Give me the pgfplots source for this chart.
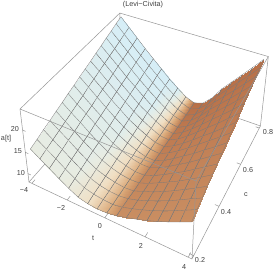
\documentclass[border=0pt]{standalone}
\usepackage{pgfplots}
\usepackage{pgfplotstable}
\pgfplotsset{compat=1.18}
\usepackage{fontspec}
\setmainfont{Liberation Sans}
\pgfmathdeclarefunction{PX}{3}{\pgfmathparse{(29+138*(.5+.12*#1)+121*(1.6*#2-.3)-10.43*(.0603*#3-.48))/(1-.13*(.5+.12*#1)+.236*(1.6*#2-.3)-.0715*(.0603*#3-.48))}}
\pgfmathdeclarefunction{PY}{3}{\pgfmathparse{273-(182+43.3*(.5+.12*#1)-86*(1.6*#2-.3)-80.8*(.0603*#3-.48))/(1-.13*(.5+.12*#1)+.236*(1.6*#2-.3)-.0715*(.0603*#3-.48))}}
\pgfmathdeclarefunction{SH}{2}{\pgfmathparse{max(-1,min(1,(#1+.9-1.5*(#2-.2))/(1.4-1.5*(#2-.2))))}}
\pgfmathdeclarefunction{MT}{2}{\pgfmathparse{SH(#1,#2)<0 ? SH(#1,#2)*(.45+.9167*(#2-.2)) : SH(#1,#2)*(.75+.4167*(#2-.2))}}
\pgfplotstableread[row sep=\\]{
t c a\\
-4 .2 15.5\\ -3.5 .2 14.1\\ -3 .2 12.8\\ -2.5 .2 11.4\\ -2 .2 10.1\\ -1.5 .2 9.0\\ -1 .2 8.5\\ -.5 .2 8.3\\ 0 .2 8.4\\ .5 .2 8.8\\ 1 .2 9.5\\ 1.5 .2 10.2\\ 2 .2 11.0\\ 2.5 .2 11.9\\ 3 .2 12.9\\ 3.5 .2 14.0\\ 4 .2 15.1\\
-4 .2375 16.0\\ -3.5 .2375 14.6\\ -3 .2375 13.3\\ -2.5 .2375 11.8\\ -2 .2375 10.5\\ -1.5 .2375 9.3\\ -1 .2375 8.8\\ -.5 .2375 8.5\\ 0 .2375 8.4\\ .5 .2375 8.8\\ 1 .2375 9.5\\ 1.5 .2375 10.3\\ 2 .2375 11.2\\ 2.5 .2375 12.2\\ 3 .2375 13.3\\ 3.5 .2375 14.5\\ 4 .2375 15.7\\
-4 .275 16.6\\ -3.5 .275 15.1\\ -3 .275 13.7\\ -2.5 .275 12.3\\ -2 .275 10.9\\ -1.5 .275 9.7\\ -1 .275 9.0\\ -.5 .275 8.6\\ 0 .275 8.5\\ .5 .275 8.8\\ 1 .275 9.5\\ 1.5 .275 10.4\\ 2 .275 11.4\\ 2.5 .275 12.5\\ 3 .275 13.7\\ 3.5 .275 15.0\\ 4 .275 16.2\\
-4 .3125 17.1\\ -3.5 .3125 15.6\\ -3 .3125 14.2\\ -2.5 .3125 12.7\\ -2 .3125 11.3\\ -1.5 .3125 10.0\\ -1 .3125 9.3\\ -.5 .3125 8.8\\ 0 .3125 8.5\\ .5 .3125 8.7\\ 1 .3125 9.6\\ 1.5 .3125 10.5\\ 2 .3125 11.6\\ 2.5 .3125 12.8\\ 3 .3125 14.1\\ 3.5 .3125 15.4\\ 4 .3125 16.8\\
-4 .35 17.7\\ -3.5 .35 16.1\\ -3 .35 14.6\\ -2.5 .35 13.1\\ -2 .35 11.7\\ -1.5 .35 10.4\\ -1 .35 9.5\\ -.5 .35 8.9\\ 0 .35 8.6\\ .5 .35 8.7\\ 1 .35 9.6\\ 1.5 .35 10.7\\ 2 .35 11.9\\ 2.5 .35 13.1\\ 3 .35 14.5\\ 3.5 .35 15.9\\ 4 .35 17.4\\
-4 .3875 18.2\\ -3.5 .3875 16.6\\ -3 .3875 15.1\\ -2.5 .3875 13.5\\ -2 .3875 12.0\\ -1.5 .3875 10.7\\ -1 .3875 9.8\\ -.5 .3875 9.1\\ 0 .3875 8.6\\ .5 .3875 8.7\\ 1 .3875 9.6\\ 1.5 .3875 10.8\\ 2 .3875 12.1\\ 2.5 .3875 13.4\\ 3 .3875 14.9\\ 3.5 .3875 16.4\\ 4 .3875 17.9\\
-4 .425 18.8\\ -3.5 .425 17.1\\ -3 .425 15.6\\ -2.5 .425 14.0\\ -2 .425 12.4\\ -1.5 .425 11.0\\ -1 .425 10.0\\ -.5 .425 9.2\\ 0 .425 8.7\\ .5 .425 8.7\\ 1 .425 9.6\\ 1.5 .425 10.9\\ 2 .425 12.3\\ 2.5 .425 13.7\\ 3 .425 15.3\\ 3.5 .425 16.9\\ 4 .425 18.5\\
-4 .4625 19.3\\ -3.5 .4625 17.6\\ -3 .4625 16.0\\ -2.5 .4625 14.4\\ -2 .4625 12.8\\ -1.5 .4625 11.4\\ -1 .4625 10.3\\ -.5 .4625 9.4\\ 0 .4625 8.7\\ .5 .4625 8.6\\ 1 .4625 9.6\\ 1.5 .4625 11.0\\ 2 .4625 12.5\\ 2.5 .4625 14.0\\ 3 .4625 15.7\\ 3.5 .4625 17.3\\ 4 .4625 19.0\\
-4 .5 19.9\\ -3.5 .5 18.2\\ -3 .5 16.5\\ -2.5 .5 14.8\\ -2 .5 13.2\\ -1.5 .5 11.7\\ -1 .5 10.5\\ -.5 .5 9.5\\ 0 .5 8.8\\ .5 .5 8.6\\ 1 .5 9.7\\ 1.5 .5 11.1\\ 2 .5 12.7\\ 2.5 .5 14.4\\ 3 .5 16.1\\ 3.5 .5 17.8\\ 4 .5 19.6\\
-4 .5375 20.4\\ -3.5 .5375 18.7\\ -3 .5375 17.0\\ -2.5 .5375 15.2\\ -2 .5375 13.6\\ -1.5 .5375 12.0\\ -1 .5375 10.8\\ -.5 .5375 9.7\\ 0 .5375 8.8\\ .5 .5375 8.6\\ 1 .5375 9.7\\ 1.5 .5375 11.2\\ 2 .5375 12.9\\ 2.5 .5375 14.7\\ 3 .5375 16.4\\ 3.5 .5375 18.3\\ 4 .5375 20.2\\
-4 .575 20.9\\ -3.5 .575 19.2\\ -3 .575 17.4\\ -2.5 .575 15.7\\ -2 .575 14.0\\ -1.5 .575 12.4\\ -1 .575 11.0\\ -.5 .575 9.8\\ 0 .575 8.8\\ .5 .575 8.6\\ 1 .575 9.7\\ 1.5 .575 11.3\\ 2 .575 13.1\\ 2.5 .575 15.0\\ 3 .575 16.8\\ 3.5 .575 18.8\\ 4 .575 20.7\\
-4 .6125 21.5\\ -3.5 .6125 19.7\\ -3 .6125 17.9\\ -2.5 .6125 16.1\\ -2 .6125 14.4\\ -1.5 .6125 12.7\\ -1 .6125 11.3\\ -.5 .6125 10.0\\ 0 .6125 8.9\\ .5 .6125 8.5\\ 1 .6125 9.7\\ 1.5 .6125 11.4\\ 2 .6125 13.3\\ 2.5 .6125 15.3\\ 3 .6125 17.2\\ 3.5 .6125 19.2\\ 4 .6125 21.3\\
-4 .65 22.0\\ -3.5 .65 20.2\\ -3 .65 18.4\\ -2.5 .65 16.5\\ -2 .65 14.8\\ -1.5 .65 13.1\\ -1 .65 11.5\\ -.5 .65 10.1\\ 0 .65 8.9\\ .5 .65 8.5\\ 1 .65 9.6\\ 1.5 .65 11.4\\ 2 .65 13.6\\ 2.5 .65 15.6\\ 3 .65 17.6\\ 3.5 .65 19.7\\ 4 .65 21.9\\
-4 .6875 22.6\\ -3.5 .6875 20.7\\ -3 .6875 18.8\\ -2.5 .6875 16.9\\ -2 .6875 15.1\\ -1.5 .6875 13.4\\ -1 .6875 11.8\\ -.5 .6875 10.3\\ 0 .6875 9.1\\ .5 .6875 8.5\\ 1 .6875 9.5\\ 1.5 .6875 11.4\\ 2 .6875 13.8\\ 2.5 .6875 15.9\\ 3 .6875 18.0\\ 3.5 .6875 20.2\\ 4 .6875 22.4\\
-4 .725 23.1\\ -3.5 .725 21.2\\ -3 .725 19.3\\ -2.5 .725 17.4\\ -2 .725 15.5\\ -1.5 .725 13.7\\ -1 .725 12.0\\ -.5 .725 10.5\\ 0 .725 9.2\\ .5 .725 8.5\\ 1 .725 9.4\\ 1.5 .725 11.4\\ 2 .725 14.0\\ 2.5 .725 16.2\\ 3 .725 18.4\\ 3.5 .725 20.7\\ 4 .725 23.0\\
-4 .7625 23.7\\ -3.5 .7625 21.7\\ -3 .7625 19.7\\ -2.5 .7625 17.8\\ -2 .7625 15.9\\ -1.5 .7625 14.1\\ -1 .7625 12.3\\ -.5 .7625 10.7\\ 0 .7625 9.3\\ .5 .7625 8.5\\ 1 .7625 9.4\\ 1.5 .7625 11.4\\ 2 .7625 14.2\\ 2.5 .7625 16.5\\ 3 .7625 18.8\\ 3.5 .7625 21.1\\ 4 .7625 23.5\\
-4 .8 24.2\\ -3.5 .8 22.2\\ -3 .8 20.2\\ -2.5 .8 18.2\\ -2 .8 16.3\\ -1.5 .8 14.4\\ -1 .8 12.5\\ -.5 .8 10.9\\ 0 .8 9.4\\ .5 .8 8.6\\ 1 .8 9.3\\ 1.5 .8 11.4\\ 2 .8 14.4\\ 2.5 .8 16.8\\ 3 .8 19.2\\ 3.5 .8 21.6\\ 4 .8 24.1\\
}\surfdata
\definecolor{boxc}{RGB}{150,150,150}
\begin{document}
\begin{tikzpicture}
\useasboundingbox (0,0) rectangle (273pt,273pt);
\begin{axis}[hide axis,scale only axis,width=273pt,height=273pt,
  xmin=0,xmax=273,ymin=0,ymax=273,zmin=-1,zmax=1,view={0}{90},clip=false,
  point meta min=-1,point meta max=1,
  colormap={lc}{rgb255(0cm)=(214,238,247); rgb255(5.5cm)=(232,236,226); rgb255(10cm)=(240,222,194); rgb255(15cm)=(218,168,120); rgb255(17.5cm)=(201,142,98); rgb255(20cm)=(184,112,72)}]
\addplot3[no marks,draw=boxc,line width=.5pt,empty line=jump,forget plot] table[x expr={PX(\thisrow{t},\thisrow{c},\thisrow{a})},y expr={PY(\thisrow{t},\thisrow{c},\thisrow{a})},z expr=0] {
t c a
-4.167 .1875 7.96
-4.167 .8125 7.96
4.167 .8125 7.96

-4.167 .8125 7.96
-4.167 .8125 24.54
4.167 .8125 24.54
4.167 .8125 7.96

-4.167 .1875 24.54
-4.167 .8125 24.54
};
\addplot3[surf,shader=faceted interp,faceted color=black!52,line width=.3pt,mesh/cols=17,mesh/ordering=x varies,
  point meta={MT(\thisrow{t},\thisrow{c})}] table[x expr={PX(\thisrow{t},\thisrow{c},\thisrow{a})},y expr={PY(\thisrow{t},\thisrow{c},\thisrow{a})},z expr=0] {\surfdata};
\addplot3[no marks,draw=boxc,line width=.5pt,empty line=jump,forget plot] table[x expr={PX(\thisrow{t},\thisrow{c},\thisrow{a})},y expr={PY(\thisrow{t},\thisrow{c},\thisrow{a})},z expr=0] {
t c a
-4.167 .1875 24.54
-4.167 .1875 7.96
4.167 .1875 7.96
4.167 .8125 7.96

-4.167 .1875 24.54
4.167 .1875 24.54
4.167 .8125 24.54

4.167 .1875 7.96
4.167 .1875 24.54

-4 .1875 7.96
-4 .205 7.96

-2 .1875 7.96
-2 .205 7.96

0 .1875 7.96
0 .205 7.96

2 .1875 7.96
2 .205 7.96

4 .1875 7.96
4 .205 7.96

4.167 .2 7.96
3.97 .2 7.96

4.167 .4 7.96
3.97 .4 7.96

4.167 .6 7.96
3.97 .6 7.96

4.167 .8 7.96
3.97 .8 7.96

-4.167 .1875 10
-4 .1875 10

-4.167 .1875 15
-4 .1875 15

-4.167 .1875 20
-4 .1875 20
};
\def\lab#1#2#3{\node[font=\fontsize{7.2}{8}\selectfont,text=black!75,inner sep=0pt] at (axis cs:#1,273-#2,0) {#3};}
\lab{143}{5}{(Levi−Civita)}
\lab{6}{139}{a[t]}
\lab{15}{129}{20}\lab{18}{151}{15}\lab{21}{173}{10}
\lab{24}{190}{−4}\lab{61}{208}{−2}\lab{100}{226}{0}\lab{141}{246}{2}\lab{184}{267}{4}
\lab{93}{238}{t}\lab{246}{195}{c}
\lab{200}{260}{0.2}\lab{226}{212}{0.4}\lab{248}{170}{0.6}\lab{268}{132}{0.8}
\end{axis}
\end{tikzpicture}
\end{document}
